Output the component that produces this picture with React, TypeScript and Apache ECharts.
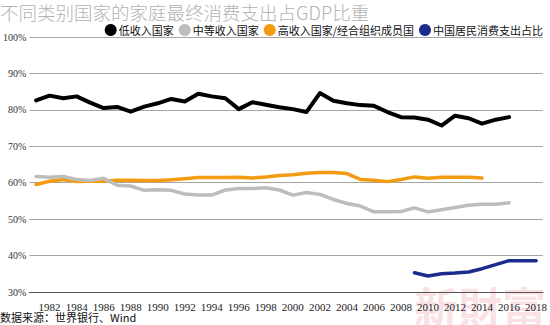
import React, { useEffect, useRef } from "react";
import * as echarts from "echarts";

const years: string[] = [];
for (let y = 1981; y <= 2018; y++) years.push(String(y));

// 1981–2016
const lowIncome = [
  82.6, 83.9, 83.2, 83.7, 82.0, 80.5, 80.8, 79.5, 80.9, 81.8, 83.0, 82.3, 84.4,
  83.7, 83.2, 80.2, 82.1, 81.4, 80.7, 80.2, 79.4, 84.6, 82.5, 81.8, 81.3, 81.1,
  79.4, 78.0, 77.9, 77.3, 75.7, 78.4, 77.7, 76.2, 77.3, 78.0,
];
// 1981–2016
const middleIncome = [
  61.7, 61.5, 61.7, 60.9, 60.6, 61.2, 59.3, 59.1, 57.9, 58.1, 57.9, 56.9, 56.6,
  56.6, 58.0, 58.4, 58.4, 58.6, 58.0, 56.6, 57.3, 56.8, 55.4, 54.3, 53.6, 52.0,
  52.0, 52.1, 53.1, 52.0, 52.6, 53.2, 53.8, 54.1, 54.1, 54.5,
];
// 1981–2014
const highIncome = [
  59.5, 60.4, 60.9, 60.3, 60.4, 60.4, 60.7, 60.7, 60.6, 60.6, 60.8, 61.1, 61.4,
  61.4, 61.4, 61.5, 61.3, 61.6, 62.0, 62.2, 62.6, 62.8, 62.8, 62.5, 60.9, 60.7,
  60.3, 60.9, 61.6, 61.2, 61.5, 61.5, 61.5, 61.3,
];
// 2009–2018
const chinaYears = ["2009", "2010", "2011", "2012", "2013", "2014", "2015", "2016", "2017", "2018"];
const china = [35.3, 34.4, 35.0, 35.2, 35.5, 36.4, 37.5, 38.6, 38.6, 38.6];

const seriesNames = ["低收入国家", "中等收入国家", "高收入国家/经合组织成员国", "中国居民消费支出占比"];
const yTicks = [30, 40, 50, 60, 70, 80, 90, 100];

function align(startYear: string, vals: number[]): (number | null)[] {
  const out: (number | null)[] = years.map(() => null);
  const s = years.indexOf(startYear);
  vals.forEach((v, i) => {
    out[s + i] = v;
  });
  return out;
}

export default function App() {
  const ref = useRef<HTMLDivElement>(null);
  useEffect(() => {
    if (!ref.current) return;
    const chart = echarts.init(ref.current, undefined, { renderer: "svg" });
    const colors = ["#000000", "#bdbdbd", "#f39c12", "#1c2c8c"];
    const widths = [4, 3.5, 3.5, 3.5];
    const data = [
      align("1981", lowIncome),
      align("1981", middleIncome),
      align("1981", highIncome),
      align(chinaYears[0], china),
    ];
    chart.setOption({
      animation: false,
      title: {
        text: "不同类别国家的家庭最终消费支出占GDP比重",
        left: 0,
        top: 0,
        padding: 0,
        textStyle: {
          fontFamily: "Noto Sans CJK SC",
          fontSize: 18.5,
          lineHeight: 23,
          fontWeight: 300,
          color: "#b3b3b3",
        },
      },
      legend: {
        right: 2,
        top: 19,
        icon: "circle",
        itemWidth: 12,
        itemHeight: 12,
        itemGap: 5,
        textStyle: { fontFamily: "Noto Sans CJK SC", fontSize: 11, color: "#111", padding: [0, 0, 0, -3] },
        data: seriesNames,
      },
      grid: { left: 22, right: 5, top: 37, bottom: 33 },
      xAxis: {
        type: "category",
        data: years,
        boundaryGap: true,
        axisLine: { lineStyle: { color: "#555", width: 1 } },
        axisTick: { interval: 0, alignWithLabel: true, length: 5, lineStyle: { color: "#555" } },
        axisLabel: {
          interval: (index: number) => index % 2 === 1,
          fontFamily: "Liberation Sans Narrow",
          fontSize: 11,
          color: "#222",
          margin: 9,
        },
        splitLine: { show: false },
      },
      yAxis: {
        type: "value",
        min: yTicks[0],
        max: yTicks[yTicks.length - 1],
        interval: 10,
        axisLine: { show: false },
        axisTick: { show: false },
        axisLabel: {
          formatter: "{value}%",
          fontFamily: "Liberation Sans Narrow",
          fontSize: 10,
          color: "#333",
          margin: 3,
        },
        splitLine: { lineStyle: { color: "#a6a6a6", width: 1 } },
      },
      graphic: [
        {
          type: "text",
          left: 0,
          top: 311,
          style: {
            text: "数据来源：世界银行、Wind",
            fontFamily: "Noto Sans CJK SC",
            fontSize: 11,
            fill: "#111",
          },
        },
        {
          type: "text",
          left: 414,
          top: 284,
          z: -1,
          silent: true,
          style: {
            text: "新財富",
            fontFamily: "Noto Sans CJK TC",
            fontSize: 44,
            fontWeight: "bold",
            fill: "rgba(238,150,160,0.3)",
          },
        },
      ],
      series: seriesNames.map((name, i) => ({
        name,
        type: "line",
        data: data[i],
        symbol: "none",
        showSymbol: false,
        connectNulls: false,
        lineStyle: { color: colors[i], width: widths[i], cap: "round", join: "round" },
        itemStyle: { color: colors[i] },
        z: 10 - i,
      })),
    });
    return () => chart.dispose();
  }, []);
  return <div ref={ref} style={{ width: 550, height: 325, position: "absolute", left: 0, top: 0, background: "#fff" }} />;
}
